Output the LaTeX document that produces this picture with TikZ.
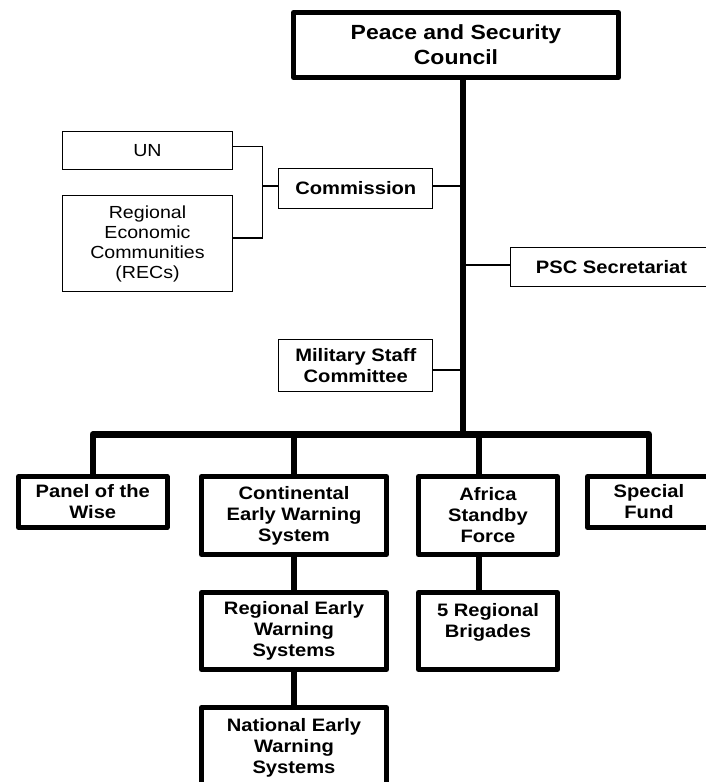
\documentclass[tikz,border=0pt]{standalone}
\usepackage{fontspec}
\setmainfont{Liberation Sans}[FakeStretch=1.12]
\begin{document}
\begin{tikzpicture}[x=1pt,y=-1pt,
 thickbox/.style={draw, line width=5pt, line join=round, inner sep=0pt, align=center, font=\fontsize{18}{21}\selectfont\bfseries},
 thinbox/.style={draw, line width=1.3pt, inner sep=0pt, align=center, font=\fontsize{18}{21}\selectfont\bfseries},
 plainbox/.style={thinbox, font=\fontsize{17.5}{20}\selectfont},
 conn/.style={line width=6.5pt},
 link/.style={line width=1.3pt}]
\useasboundingbox (0,0) rectangle (705,782);
% boxes
\node[thickbox, minimum width=325pt, minimum height=65pt, font=\fontsize{20.5}{25}\selectfont\bfseries] (psc) at (456,45) {Peace and Security\\Council};
\node[plainbox, minimum width=170pt, minimum height=38pt] (un) at (147.5,150.3) {UN};
\node[plainbox, minimum width=170pt, minimum height=96pt] (rec) at (147.5,243.5) {Regional\\Economic\\Communities\\(RECs)};
\node[thinbox, minimum width=154pt, minimum height=40pt] (com) at (355.75,188.5) {Commission};
\node[thinbox, minimum width=240pt, minimum height=39pt] (sec) at (630.65,267) {\hspace*{-38.3pt}PSC Secretariat};
\node[thinbox, minimum width=154pt, minimum height=52pt] (msc) at (355.75,365.5) {Military Staff\\Committee};
\node[thickbox, minimum width=148.5pt, minimum height=51pt] (pw) at (92.75,502) {Panel of the\\Wise};
\node[thickbox, minimum width=185pt, minimum height=78pt] (cews) at (294,515.5) {Continental\\Early Warning\\System};
\node[thickbox, minimum width=139pt, minimum height=78pt] (asf) at (488,515.5) {Africa\\Standby\\Force};
\node[thickbox, minimum width=160pt, minimum height=51pt] (sf) at (667.5,502) {\hspace*{-37pt}Special\\\hspace*{-37pt}Fund};
\node[thickbox, minimum width=185pt, minimum height=77pt] (rews) at (294,631) {Regional Early\\Warning\\Systems};
\node[thickbox, minimum width=139pt, minimum height=77pt] (br) at (488,631) {5 Regional\\Brigades\\\mbox{}};
\node[thickbox, minimum width=185pt, minimum height=98pt] (news) at (294,756.5) {National Early\\Warning\\Systems\\\mbox{}};
% coordinates
\coordinate (tx) at (463,0);
\coordinate (bar) at (463,434.5);
\coordinate (ax) at (479,0);
\coordinate (fx) at (649,0);
% thick connectors
\draw[conn] (psc.south -| tx) -- (bar);
\draw[conn, line join=round] (pw.north) -- (pw.north |- bar) -- (fx |- bar) -- (sf.north -| fx);
\draw[conn] (cews.north) -- (cews.north |- bar);
\draw[conn] (asf.north -| ax) -- (ax |- bar);
\draw[conn] (cews.south) -- (rews.north);
\draw[conn] (rews.south) -- (news.north);
\draw[conn] (asf.south -| ax) -- (br.north -| ax);
% thin connectors
\draw[link] ([yshift=3.6pt]un.east) -- ++(29.6,0) |- ([yshift=5.5pt]rec.east);
\draw[link] ([yshift=2.5pt]com.west) -- ++(-15.4,0);
\draw[link] ([yshift=2.5pt]com.east) -- ++(29.5,0);
\draw[link] ([yshift=2pt]sec.west) -- ++(-47,0);
\draw[link] ([yshift=-4.5pt]msc.east) -- ++(29.5,0);
\end{tikzpicture}
\end{document}
